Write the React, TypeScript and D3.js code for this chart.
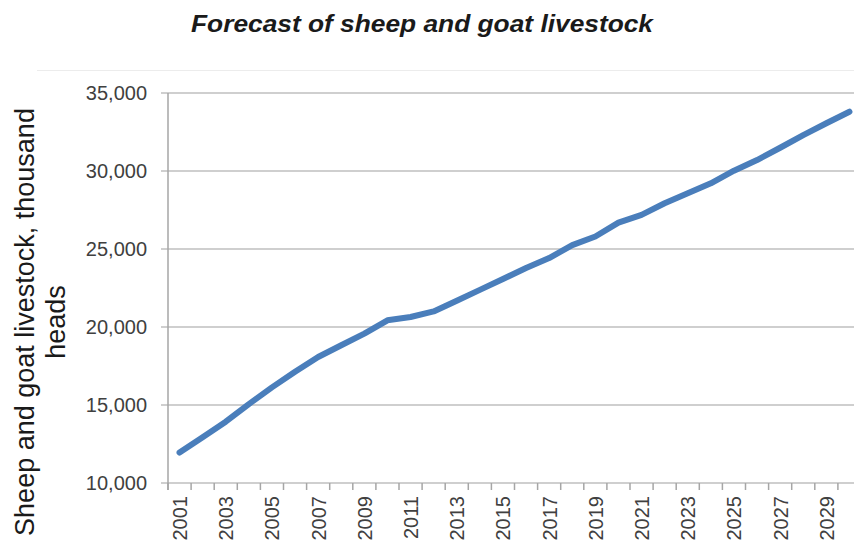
import React, { useEffect, useRef } from "react";
import * as d3 from "d3";

const years = [
  "2001", "2002", "2003", "2004", "2005", "2006", "2007", "2008", "2009", "2010",
  "2011", "2012", "2013", "2014", "2015", "2016", "2017", "2018", "2019", "2020",
  "2021", "2022", "2023", "2024", "2025", "2026", "2027", "2028", "2029", "2030",
];
// thousand heads
const livestock = [
  11950, 12940, 13930, 15060, 16130, 17130, 18080, 18830, 19580, 20430,
  20640, 21000, 21680, 22380, 23080, 23780, 24420, 25250, 25800, 26690,
  27190, 27930, 28570, 29210, 30020, 30700, 31490, 32300, 33060, 33800,
];
const yTicks = [10000, 15000, 20000, 25000, 30000, 35000];
const labelYears = years.filter((_, i) => i % 2 === 0);

const App = () => {
  const svgRef: any = useRef();

  useEffect(() => {
    document.body.style.margin = "0";
    const svg = d3.select(svgRef.current);
    svg.selectAll("*").remove();
    const width = 854;
    const height = 546;
    const margin = { top: 93, left: 168, bottom: 483, right: 861 };

    const x = d3.scaleBand().domain(years).range([margin.left, margin.right]).padding(0);
    const y = d3.scaleLinear().domain([10000, 35000]).range([margin.bottom, margin.top]);

    svg.attr("width", width).attr("height", height);

    // title
    svg
      .append("text")
      .attr("x", 422)
      .attr("y", 32)
      .attr("text-anchor", "middle")
      .attr("font-family", "Liberation Sans, Arial, sans-serif")
      .attr("font-size", 24)
      .attr("font-weight", "bold")
      .attr("font-style", "italic")
      .attr("fill", "#1a1a1a")
      .attr("textLength", 462)
      .attr("lengthAdjust", "spacingAndGlyphs")
      .text("Forecast of sheep and goat livestock");

    // faint chart-area border
    svg
      .append("line")
      .attr("x1", 37)
      .attr("x2", width)
      .attr("y1", 70.5)
      .attr("y2", 70.5)
      .attr("stroke", "#ececec")
      .attr("stroke-width", 1);

    // gridlines
    svg
      .append("g")
      .selectAll("line")
      .data(yTicks)
      .join("line")
      .attr("x1", margin.left - 7)
      .attr("x2", width)
      .attr("y1", (d) => y(d))
      .attr("y2", (d) => y(d))
      .attr("stroke", "#bfbfbf")
      .attr("stroke-width", 1.5);

    // y axis line
    svg
      .append("line")
      .attr("x1", margin.left)
      .attr("x2", margin.left)
      .attr("y1", margin.top)
      .attr("y2", margin.bottom + 7)
      .attr("stroke", "#a6a6a6")
      .attr("stroke-width", 1.5);

    // y tick labels
    const yAxis = svg
      .append("g")
      .attr("transform", `translate(${margin.left},0)`)
      .call(
        d3
          .axisLeft(y)
          .tickValues(yTicks)
          .tickFormat(d3.format(","))
          .tickSize(0)
          .tickPadding(21)
      );
    yAxis.select(".domain").remove();
    yAxis
      .selectAll("text")
      .attr("font-family", "Liberation Sans, Arial, sans-serif")
      .attr("font-size", 20)
      .attr("fill", "#404040");

    // x axis ticks at band boundaries
    const bounds = years.map((d) => x(d) as number).concat([x.range()[1]]);
    svg
      .append("g")
      .selectAll("line")
      .data(bounds)
      .join("line")
      .attr("x1", (d) => d)
      .attr("x2", (d) => d)
      .attr("y1", margin.bottom)
      .attr("y2", margin.bottom + 7)
      .attr("stroke", "#a6a6a6")
      .attr("stroke-width", 1.5);

    // x labels
    svg
      .append("g")
      .selectAll("text")
      .data(labelYears)
      .join("text")
      .attr(
        "transform",
        (d) => `translate(${(x(d) as number) + x.bandwidth() / 2 + 7.5},${margin.bottom + 13}) rotate(-90)`
      )
      .attr("text-anchor", "end")
      .attr("font-family", "Liberation Sans, Arial, sans-serif")
      .attr("font-size", 20)
      .attr("fill", "#404040")
      .text((d) => d);

    // line
    const line = d3
      .line<number>()
      .x((_, i) => (x(years[i]) as number) + x.bandwidth() / 2)
      .y((d) => y(d));
    svg
      .append("path")
      .datum(livestock)
      .attr("d", line)
      .attr("fill", "none")
      .attr("stroke", "#4a7ebb")
      .attr("stroke-width", 6)
      .attr("stroke-linecap", "round")
      .attr("stroke-linejoin", "round");

    // y axis title
    const title = svg
      .append("text")
      .attr("transform", "translate(0,322) rotate(-90)")
      .attr("text-anchor", "middle")
      .attr("font-family", "Liberation Sans, Arial, sans-serif")
      .attr("font-size", 27)
      .attr("fill", "#1a1a1a");
    title.append("tspan").attr("x", 0).attr("y", 34).text("Sheep and goat livestock, thousand");
    title.append("tspan").attr("x", 0).attr("y", 65).text("heads");
  }, []);

  return <svg ref={svgRef} style={{ display: "block" }}></svg>;
};

export default App;
